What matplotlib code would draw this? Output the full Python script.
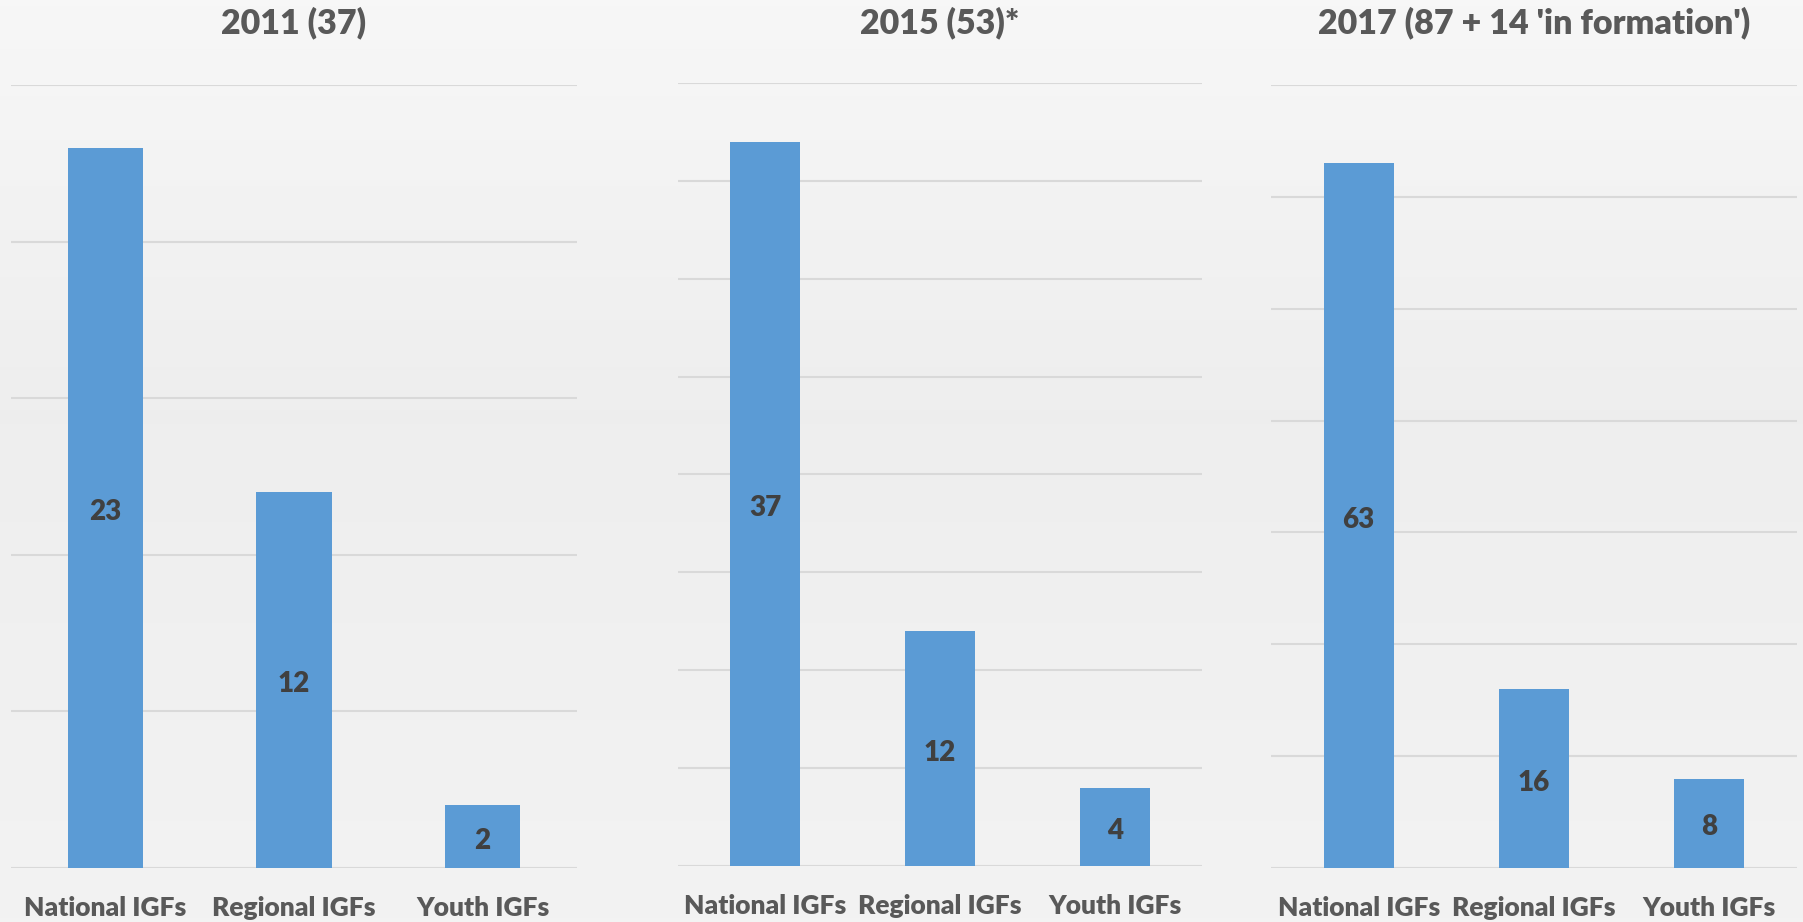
import matplotlib.pyplot as plt
import numpy as np

plt.rcParams['font.family'] = ['Lato', 'DejaVu Sans']

categories = ['National IGFs', 'Regional IGFs', 'Youth IGFs']
titles = ['2011 (37)', '2015 (53)*', "2017 (87 + 14 'in formation')"]
values_2011 = [23, 12, 2]
values_2015 = [37, 12, 4]
values_2017 = [63, 16, 8]
y_max = [25, 40, 70]
y_step = [5, 5, 10]

W, H = 1803, 922
fig = plt.figure(figsize=(W / 100, H / 100), dpi=100)

# background gradient (light top, a bit darker in the middle)
bg = fig.add_axes([0, 0, 1, 1], zorder=-10)
yy = np.linspace(0, 1, 256)
shade = np.interp(yy, [0, 0.45, 1], [0.969, 0.933, 0.953])
bg.imshow(np.tile(shade[:, None], (1, 2))[:, :, None].repeat(3, axis=2),
          aspect='auto', extent=[0, 1, 0, 1], origin='upper')
bg.axis('off')

# panel boxes in pixels: left, right, top, bottom
boxes = [(11, 577, 85, 868), (678, 1202, 83, 866), (1271, 1797, 85, 868)]
series = [values_2011, values_2015, values_2017]

for (x0, x1, yt, yb), vals, title, ym, st in zip(boxes, series, titles, y_max, y_step):
    ax = fig.add_axes([x0 / W, 1 - yb / H, (x1 - x0) / W, (yb - yt) / H])
    ax.patch.set_alpha(0)
    x = np.arange(len(categories))
    bars = ax.bar(x, vals, width=0.4, color='#5B9BD5', zorder=3)
    ax.bar_label(bars, label_type='center', fontsize=20, fontweight='heavy',
                 color='#404040', padding=-3)
    ax.set_xlim(-0.5, 2.5)
    ax.set_ylim(0, ym)
    ax.set_yticks(np.arange(0, ym + 1, st))
    ax.yaxis.grid(True, color='#D9D9D9', linewidth=1.5)
    ax.set_axisbelow(True)
    ax.tick_params(axis='y', left=False, labelleft=False)
    ax.tick_params(axis='x', length=0, pad=20)
    ax.set_xticks(x)
    ax.set_xticklabels(categories, fontsize=19, fontweight='heavy', color='#595959')
    for s in ax.spines.values():
        s.set_visible(False)
    fig.text((x0 + x1) / 2 / W, 1 - 23 / H, title, ha='center', va='center',
             fontsize=24.5, fontweight='heavy', color='#595959')

fig.savefig('out.png', dpi=100)
